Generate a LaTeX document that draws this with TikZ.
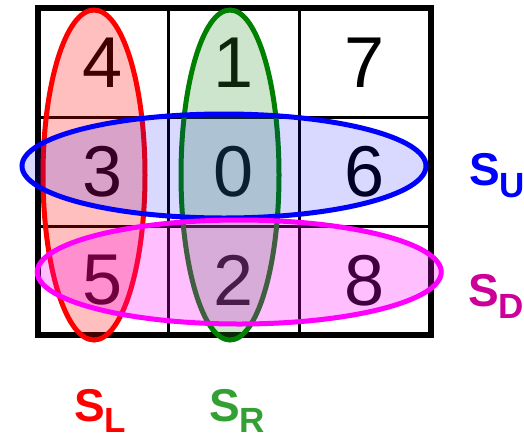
\documentclass[tikz,border=0pt]{standalone}
\usepackage{fontspec}
\setmainfont{Liberation Sans}
\definecolor{sgreen}{RGB}{51,160,51}
\definecolor{sdmag}{RGB}{204,0,153}
\definecolor{egreen}{RGB}{0,128,0}
\definecolor{emag}{RGB}{255,0,255}
\definecolor{eblue}{RGB}{0,0,255}
\definecolor{ered}{RGB}{255,0,0}
\begin{document}
\begin{tikzpicture}[x=1pt,y=-1pt,
  outer/.style={line width=6pt},
  inner/.style={line width=3pt},
  digit/.style={font=\fontsize{72}{72}\selectfont, text=black, inner sep=0pt},
  setell/.style={line width=5pt},
  lab/.style={font=\bfseries\fontsize{46}{46}\selectfont, inner sep=0pt, anchor=base west}]
\useasboundingbox (0,0) rectangle (524,432);
% grid
\coordinate (g00) at (37.5,8);
\coordinate (g33) at (430.5,334.5);
\draw[inner] (168,8) -- (168,334.5);
\draw[inner] (299,8) -- (299,334.5);
\draw[inner] (37.5,117) -- (430.5,117);
\draw[inner] (37.5,226) -- (430.5,226);
\draw[outer] (g00) rectangle (g33);
% digits
\node[digit] (d4) at (102.75,62.5) {4};
\node[digit] (d1) at (233.5,62.5) {1};
\node[digit] (d7) at (364.75,62.5) {7};
\node[digit] (d3) at (102.75,171.5) {3};
\node[digit] (d0) at (233.5,171.5) {0};
\node[digit] (d6) at (364.75,171.5) {6};
\node[digit] (d5) at (102.75,280.25) {5};
\node[digit] (d2) at (233.5,280.25) {2};
\node[digit] (d8) at (364.75,280.25) {8};
% sets
\draw[setell, draw=ered, fill=ered, fill opacity=0.25] (94,175) ellipse [x radius=51, y radius=165];
\draw[setell, draw=egreen, fill=egreen!80, fill opacity=0.25] (230,175) ellipse [x radius=49, y radius=165];
\draw[setell, draw=eblue, fill=eblue, fill opacity=0.15] (224,166) ellipse [x radius=202, y radius=52];
\draw[setell, draw=emag, fill=emag, fill opacity=0.25] (239.25,272) ellipse [x radius=202, y radius=52];
% labels
\node[lab, text=blue] (su) at (469,185) {S\raisebox{-12pt}{\fontsize{35}{35}\selectfont U}};
\node[lab, text=sdmag] (sd) at (468,306) {S\raisebox{-12pt}{\fontsize{35}{35}\selectfont D}};
\node[lab, text=red] (sl) at (74,421) {S\raisebox{-11pt}{\fontsize{35}{35}\selectfont L}};
\node[lab, text=sgreen] (sr) at (209,421) {S\raisebox{-11pt}{\fontsize{35}{35}\selectfont R}};
\end{tikzpicture}
\end{document}
